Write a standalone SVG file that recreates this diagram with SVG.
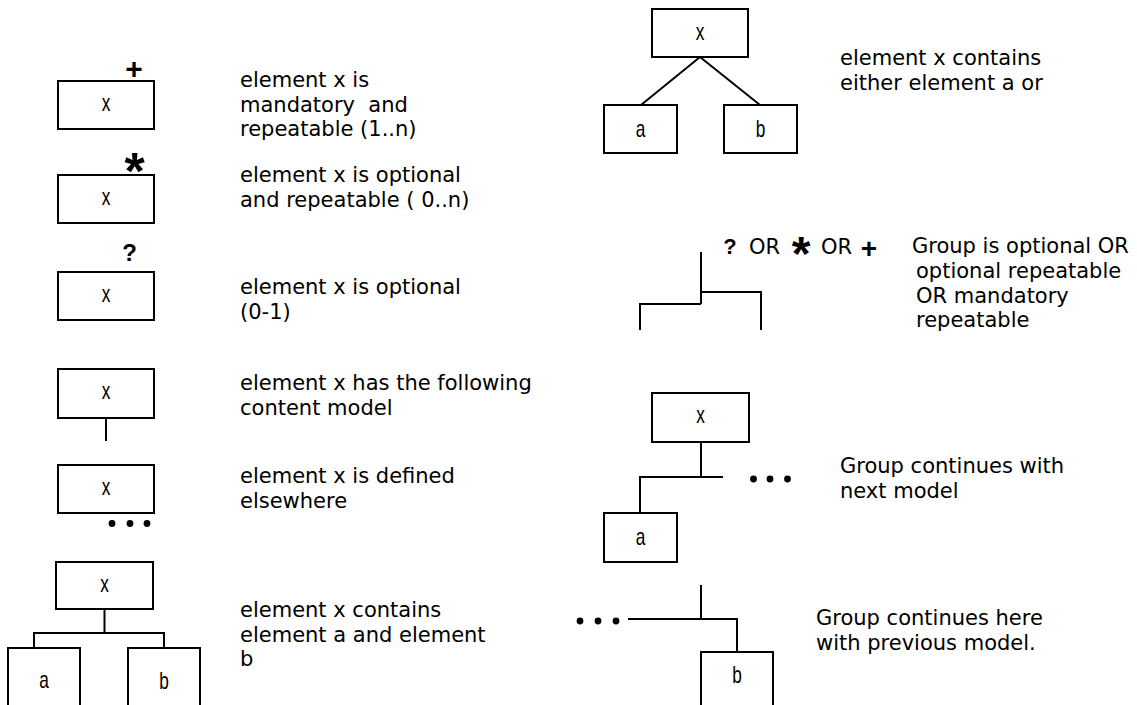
<svg xmlns="http://www.w3.org/2000/svg" width="1137" height="705" viewBox="0 0 1137 705">
<style>
.box{fill:#fff;stroke:#000;stroke-width:2}
.ln{fill:none;stroke:#000;stroke-width:2}
.t{font-family:"DejaVu Sans",Verdana,sans-serif;font-size:21px;fill:#000;white-space:pre}
.lbl{font-family:"Liberation Sans",Arial,sans-serif;font-size:23px;fill:#000;text-anchor:middle}
.sym{font-family:"Liberation Sans",Arial,sans-serif;font-weight:bold;fill:#000;text-anchor:middle}
.dot{fill:#000}
</style>
<defs>
<clipPath id="clipRep"><rect x="880" y="230" width="257" height="101"/></clipPath>
</defs>
<rect width="1137" height="705" fill="#fff"/>

<g id="connectors">
<line class="ln" x1="106" y1="418" x2="106" y2="441"/>
<path class="ln" d="M104.5,609 V633 M34,648 V633 H164 V648"/>
<path class="ln" d="M641,105 L700,57 L760,105"/>
<path class="ln" d="M701,252 V304 M640,330 V304 H701 M701,292 H761 V330"/>
<path class="ln" d="M701,442 V477 M640,513 V477 H723"/>
<path class="ln" d="M701,585 V619 M628,619 H737 V652"/>
</g>

<g id="n-plus">
<rect class="box" x="58" y="81" width="96" height="48"/>
<text class="lbl" transform="translate(106,111) scale(0.75,1)">x</text>
<text class="sym" x="134" y="78.5" font-size="30">+</text>
<text class="t" x="240" y="87">element x is</text>
<text class="t" x="240" y="111.5">mandatory  and</text>
<text class="t" x="240" y="136">repeatable (1..n)</text>
</g>

<g id="n-star">
<rect class="box" x="58" y="175" width="96" height="48"/>
<text class="lbl" transform="translate(106,205) scale(0.75,1)">x</text>
<text class="sym" x="134.5" y="189" font-size="52">*</text>
<text class="t" x="240" y="182">element x is optional</text>
<text class="t" x="240" y="206.5">and repeatable ( 0..n)</text>
</g>

<g id="n-opt">
<rect class="box" x="58" y="272" width="96" height="48"/>
<text class="lbl" transform="translate(106,302) scale(0.75,1)">x</text>
<text class="sym" x="129.5" y="261" font-size="24">?</text>
<text class="t" x="240" y="294">element x is optional</text>
<text class="t" x="240" y="318.5">(0-1)</text>
</g>

<g id="n-content">
<rect class="box" x="58" y="369" width="96" height="49"/>
<text class="lbl" transform="translate(106,399) scale(0.75,1)">x</text>
<text class="t" x="240" y="390">element x has the following</text>
<text class="t" x="240" y="414.5">content model</text>
</g>

<g id="n-elsewhere">
<rect class="box" x="58" y="465" width="96" height="48"/>
<text class="lbl" transform="translate(106,495) scale(0.75,1)">x</text>
<circle class="dot" cx="112" cy="523.5" r="3.4"/>
<circle class="dot" cx="130" cy="523.5" r="3.4"/>
<circle class="dot" cx="147" cy="523.5" r="3.4"/>
<text class="t" x="240" y="483">element x is defined</text>
<text class="t" x="240" y="507.5">elsewhere</text>
</g>

<g id="n-seq">
<rect class="box" x="56" y="562" width="97" height="47"/>
<text class="lbl" transform="translate(104.5,592) scale(0.75,1)">x</text>
<rect class="box" x="8" y="648" width="72" height="64"/>
<text class="lbl" transform="translate(44,688) scale(0.75,1)">a</text>
<rect class="box" x="128" y="648" width="72" height="64"/>
<text class="lbl" transform="translate(164,689) scale(0.75,1)">b</text>
<text class="t" x="240" y="617">element x contains</text>
<text class="t" x="240" y="641.5">element a and element</text>
<text class="t" x="240" y="666">b</text>
</g>

<g id="n-choice">
<rect class="box" x="652" y="9" width="96" height="48"/>
<text class="lbl" transform="translate(700,40) scale(0.75,1)">x</text>
<rect class="box" x="604" y="105" width="73" height="48"/>
<text class="lbl" transform="translate(640.5,137) scale(0.75,1)">a</text>
<rect class="box" x="724" y="105" width="73" height="48"/>
<text class="lbl" transform="translate(760.5,137) scale(0.75,1)">b</text>
<text class="t" x="840" y="65">element x contains</text>
<text class="t" x="840" y="90">either element a or</text>
</g>

<g id="n-group">
<text class="sym" x="730" y="254" font-size="22">?</text>
<text class="t" x="749" y="254">OR</text>
<text class="sym" x="801" y="270" font-size="48">*</text>
<text class="t" x="821" y="254">OR</text>
<text class="sym" x="869" y="258" font-size="28">+</text>
<text class="t" x="912" y="253">Group is optional OR</text>
<text class="t" x="916" y="278">optional repeatable</text>
<text class="t" x="916" y="302.5">OR mandatory</text>
<text class="t" x="916" y="327" clip-path="url(#clipRep)">repeatable</text>
</g>

<g id="n-next">
<rect class="box" x="652" y="393" width="97" height="49"/>
<text class="lbl" transform="translate(700.5,423) scale(0.75,1)">x</text>
<rect class="box" x="604" y="513" width="73" height="49"/>
<text class="lbl" transform="translate(640.5,545) scale(0.75,1)">a</text>
<circle class="dot" cx="753.5" cy="479" r="3.4"/>
<circle class="dot" cx="770" cy="479" r="3.4"/>
<circle class="dot" cx="787.5" cy="479" r="3.4"/>
<text class="t" x="840" y="473">Group continues with</text>
<text class="t" x="840" y="497.5">next model</text>
</g>

<g id="n-prev">
<circle class="dot" cx="580" cy="621" r="3.4"/>
<circle class="dot" cx="598" cy="621" r="3.4"/>
<circle class="dot" cx="616" cy="621" r="3.4"/>
<rect class="box" x="701" y="652" width="72" height="60"/>
<text class="lbl" transform="translate(737,683) scale(0.75,1)">b</text>
<text class="t" x="816" y="625">Group continues here</text>
<text class="t" x="816" y="649.5">with previous model.</text>
</g>
</svg>
